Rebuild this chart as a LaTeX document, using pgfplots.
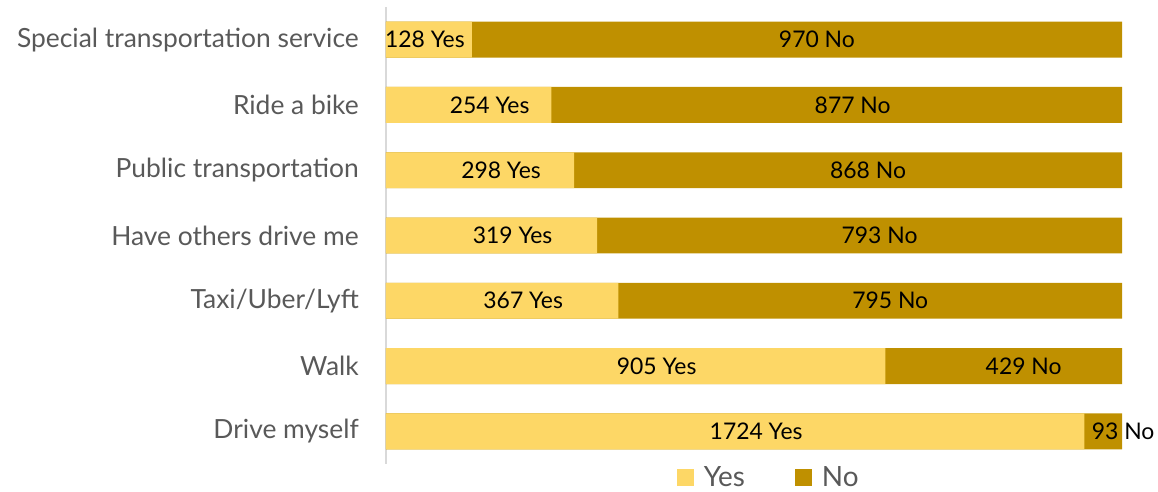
\documentclass[border=0pt]{standalone}
\usepackage{pgfplots}
\pgfplotsset{compat=1.18}
\usepackage{pgfplotstable}
\usepackage{fontspec}
\setmainfont{Lato}
\definecolor{cyes}{HTML}{FDD766}
\definecolor{cno}{HTML}{BF9000}
\definecolor{lblgray}{HTML}{595959}
\definecolor{axgray}{HTML}{D9D9D9}

\pgfplotstableread[col sep=comma]{
idx,yes,no,ys,ns
0,128,970,-4,20
1,254,877,21,16
2,298,868,21,20
3,319,793,21,20
4,367,795,21,20
5,905,429,21,20
6,1724,93,21,20
}\data

\begin{document}
\begin{tikzpicture}[x=1bp,y=1bp]
\begin{axis}[
  name=ax,
  scale only axis,
  width=736bp, height=457bp,
  xmin=0, xmax=100,
  ymin=-0.5, ymax=6.5,
  y dir=reverse,
  axis x line=none,
  axis y line*=left,
  y axis line style={draw=axgray, line width=1.5bp},
  ytick={0,...,6},
  yticklabels={Special transportation service,Ride a bike,Public transportation,Have others drive me,Taxi/Uber/Lyft,Walk,Drive myself},
  major tick length=0pt,
  yticklabel style={font=\fontsize{26.5}{30}\selectfont, text=lblgray, inner sep=0pt, xshift=-27bp},
  legend style={draw=none, fill=none, font=\fontsize{28}{32}\selectfont, text=lblgray,
    at={(axis description cs:0.52,-0.03)}, anchor=center, legend columns=2,
    /tikz/every even column/.append style={column sep=48bp},
    /tikz/every odd column/.append style={column sep=8bp},
    inner sep=0pt, cells={anchor=west}},
  legend image code/.code={\fill[#1] (0bp,-8bp) rectangle (17bp,9bp);},
  clip=false,
]
% No bars (full width behind)
\addplot[xbar, bar shift=0pt, bar width=0.55, fill=cno, draw=none, forget plot]
  table[x expr=100, y=idx]{\data};
% Yes bars
\addplot[xbar, bar shift=0pt, bar width=0.55, fill=cyes, draw=none, forget plot]
  table[x expr={\thisrow{yes}/(\thisrow{yes}+\thisrow{no})*100}, y=idx]{\data};
% Yes labels
\addplot[draw=none, mark=none, forget plot,
  point meta=explicit symbolic,
  visualization depends on={\thisrow{ys} \as \ys},
  nodes near coords={\pgfplotspointmeta\ Yes},
  nodes near coords style={anchor=center, xshift=\ys bp, font=\fontsize{23}{27}\selectfont, text=black, inner sep=0pt}]
  table[x expr={\thisrow{yes}/(\thisrow{yes}+\thisrow{no})*50}, y=idx, meta=yes]{\data};
% No labels
\addplot[draw=none, mark=none, forget plot,
  point meta=explicit symbolic,
  visualization depends on={\thisrow{ns} \as \ns},
  nodes near coords={\pgfplotspointmeta\ No},
  nodes near coords style={anchor=center, xshift=\ns bp, font=\fontsize{23}{27}\selectfont, text=black, inner sep=0pt}]
  table[x expr={(\thisrow{yes}+\thisrow{no}/2)/(\thisrow{yes}+\thisrow{no})*100}, y=idx, meta=no]{\data};
\addlegendimage{fill=cyes, draw=none}
\addlegendentry{Yes}
\addlegendimage{fill=cno, draw=none}
\addlegendentry{No}
\end{axis}
\pgfresetboundingbox
\path[use as bounding box] ([xshift=-386bp, yshift=7bp]ax.north west) rectangle ([xshift=36bp, yshift=-28bp]ax.south east);
\end{tikzpicture}
\end{document}
